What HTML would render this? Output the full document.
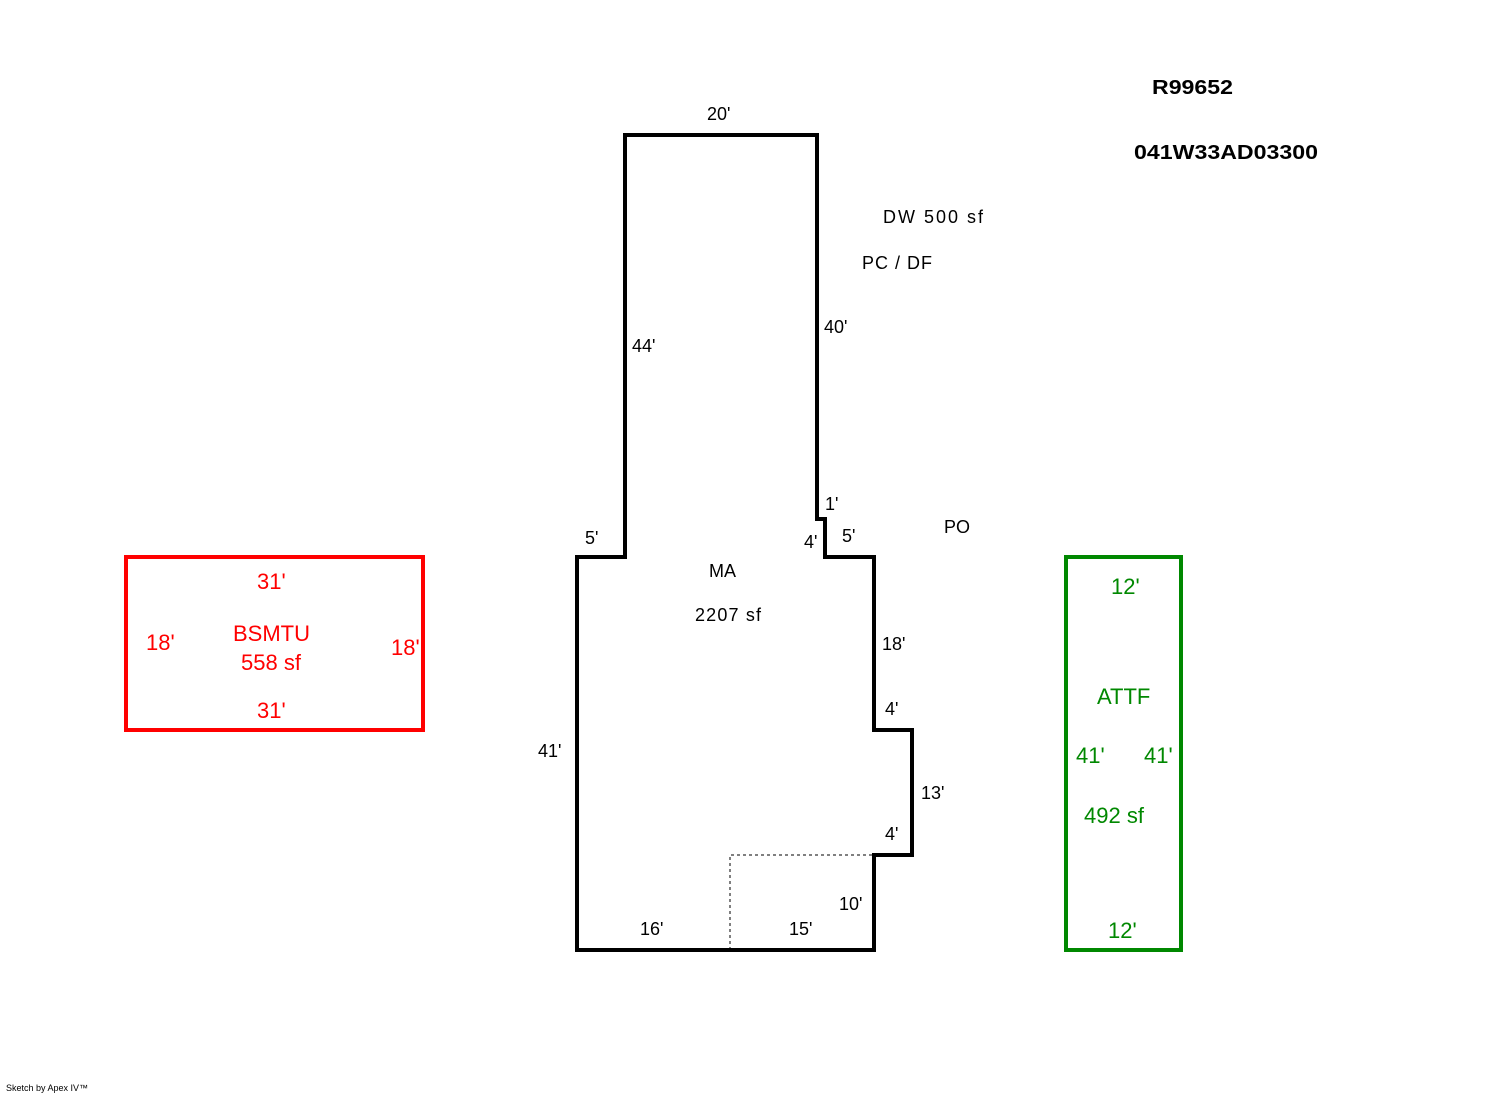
<!DOCTYPE html>
<html><head><style>
html,body{margin:0;padding:0;background:#fff}
svg{display:block}
text{font-family:"Liberation Sans",Arial,sans-serif}
</style></head><body>
<svg width="1492" height="1094" viewBox="0 0 1492 1094" xmlns="http://www.w3.org/2000/svg">
<polygon points="625,135 817,135 817,519 825,519 825,557 874,557 874,730 912,730 912,855 874,855 874,950 577,950 577,557 625,557" fill="none" stroke="#000" stroke-width="4" stroke-linejoin="miter"/>
<polyline points="730,950 730,855 874,855" fill="none" stroke="#000" stroke-width="1" stroke-dasharray="3,3"/>
<rect x="126" y="557" width="297" height="173" fill="none" stroke="#f00" stroke-width="4"/>
<rect x="1066" y="557" width="115" height="393" fill="none" stroke="#080" stroke-width="4"/>
<g font-size="18" fill="#000">
<text x="1152" y="94" font-weight="bold" font-size="20" textLength="81" lengthAdjust="spacingAndGlyphs">R99652</text>
<text x="1134" y="159" font-weight="bold" font-size="20" textLength="184" lengthAdjust="spacingAndGlyphs">041W33AD03300</text>
<text x="707" y="120">20'</text>
<text x="883" y="223" textLength="100">DW  500 sf</text>
<text x="862" y="269" textLength="70">PC / DF</text>
<text x="824" y="333">40'</text>
<text x="632" y="352">44'</text>
<text x="825" y="510">1'</text>
<text x="944" y="533">PO</text>
<text x="585" y="544">5'</text>
<text x="804" y="548">4'</text>
<text x="842" y="542">5'</text>
<text x="709" y="577">MA</text>
<text x="695" y="621" textLength="66">2207 sf</text>
<text x="882" y="650">18'</text>
<text x="885" y="715">4'</text>
<text x="538" y="757">41'</text>
<text x="921" y="799">13'</text>
<text x="885" y="840">4'</text>
<text x="839" y="910">10'</text>
<text x="640" y="935">16'</text>
<text x="789" y="935">15'</text>
</g>
<g font-size="22" fill="#f00">
<text x="257" y="589">31'</text>
<text x="146" y="650">18'</text>
<text x="233" y="641">BSMTU</text>
<text x="241" y="670">558 sf</text>
<text x="391" y="655">18'</text>
<text x="257" y="718">31'</text>
</g>
<g font-size="22" fill="#080">
<text x="1111" y="594">12'</text>
<text x="1097" y="704">ATTF</text>
<text x="1076" y="763">41'</text>
<text x="1144" y="763">41'</text>
<text x="1084" y="823">492 sf</text>
<text x="1108" y="938">12'</text>
</g>
<text x="6" y="1091" font-size="9" fill="#000">Sketch by Apex IV™</text>
</svg>
</body></html>
